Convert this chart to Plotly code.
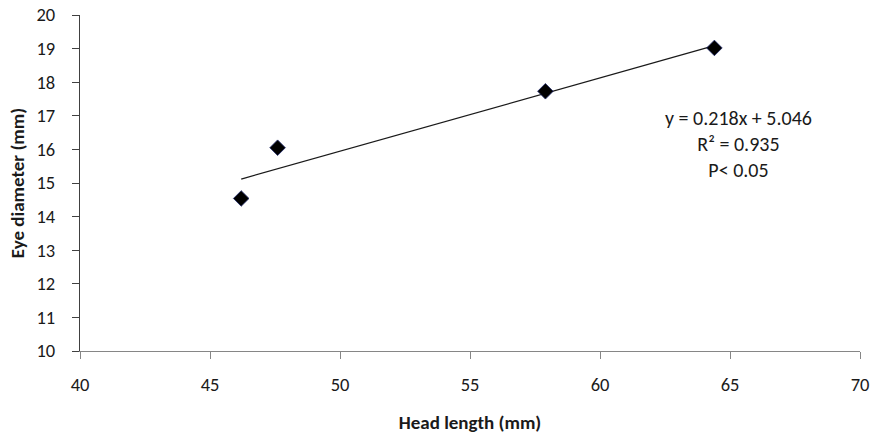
import plotly.graph_objects as go

# Head length vs eye diameter measurements
head_length = [46.2, 47.6, 57.9, 64.4]
eye_diameter = [14.54, 16.05, 17.73, 19.02]

# Linear fit coefficients and statistics
slope = 0.218
intercept = 5.046
r_squared = 0.935
p_text = "P< 0.05"

x_ticks = [40, 45, 50, 55, 60, 65, 70]
y_ticks = [10, 11, 12, 13, 14, 15, 16, 17, 18, 19, 20]

font_family = "Carlito, Calibri, Lato, 'Open Sans', sans-serif"
text_color = "#1a1a1a"

fit_x = [min(head_length), max(head_length)]
fit_y = [slope * v + intercept for v in fit_x]

fig = go.Figure()
fig.add_trace(go.Scatter(
    x=fit_x, y=fit_y, mode="lines",
    line=dict(color="#1a1a1a", width=1.3),
    hoverinfo="skip", showlegend=False,
))
fig.add_trace(go.Scatter(
    x=head_length, y=eye_diameter, mode="markers",
    marker=dict(symbol="diamond", size=12, color="black",
                line=dict(color="#1f2a6b", width=0.8)),
    showlegend=False,
))

fig.add_annotation(
    x=0.8436, y=0.616, xref="paper", yref="paper",
    text=(f"y = {slope}x + {intercept}<br>R² = {r_squared}<br>{p_text}"),
    showarrow=False, align="center", xanchor="center", yanchor="middle",
    font=dict(family=font_family, size=20, color=text_color),
)

fig.update_layout(
    width=873, height=439,
    margin=dict(l=80, r=13, t=15, b=88),
    paper_bgcolor="white", plot_bgcolor="white",
    font=dict(family=font_family, size=18, color=text_color),
    xaxis=dict(
        range=[40, 70], tickvals=x_ticks, showgrid=False, zeroline=False,
        automargin=False,
        showline=True, linecolor="#868686", linewidth=1.3,
        ticks="outside", ticklen=7, tickcolor="#868686",
        ticklabelstandoff=10,
        tickfont=dict(family=font_family, size=18.5, color=text_color),
        title=dict(text="<b>Head length (mm)</b>", standoff=20,
                   font=dict(family=font_family, size=19, color=text_color)),
    ),
    yaxis=dict(
        range=[10, 20], tickvals=y_ticks, showgrid=False, zeroline=False,
        automargin=False,
        showline=True, linecolor="#404040", linewidth=1.3,
        ticks="outside", ticklen=7, tickcolor="#404040",
        ticklabelstandoff=13,
        tickfont=dict(family=font_family, size=18.5, color=text_color),
        title=dict(text="<b>Eye diameter (mm)</b>", standoff=6,
                   font=dict(family=font_family, size=19, color=text_color)),
    ),
)

fig.write_html("out.html")
